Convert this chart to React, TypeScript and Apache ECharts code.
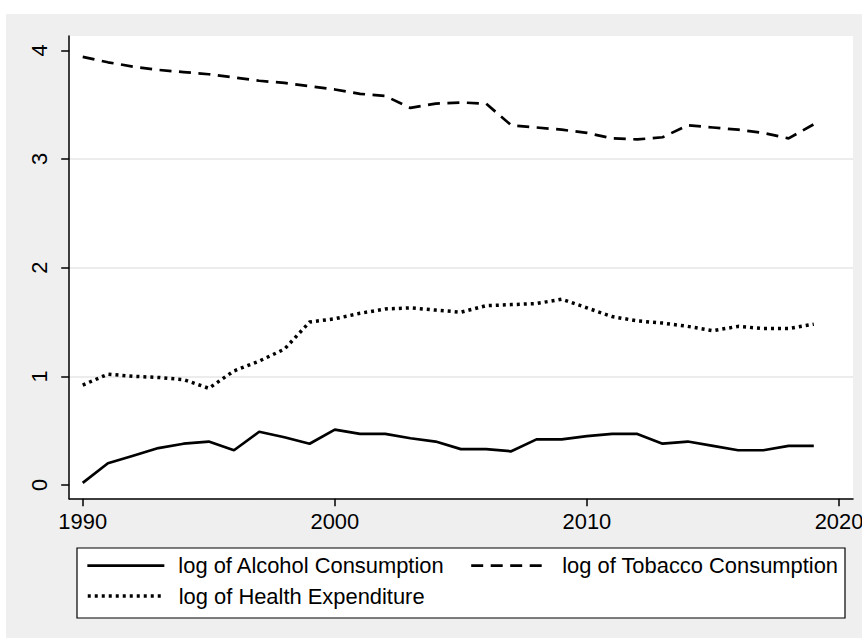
import React, { useEffect, useRef } from "react";
import * as echarts from "echarts";

// Years observed
const years = [
  1990, 1991, 1992, 1993, 1994, 1995, 1996, 1997, 1998, 1999,
  2000, 2001, 2002, 2003, 2004, 2005, 2006, 2007, 2008, 2009,
  2010, 2011, 2012, 2013, 2014, 2015, 2016, 2017, 2018, 2019,
];

// Log series
const alcohol = [
  0.02, 0.2, 0.27, 0.34, 0.38, 0.4, 0.32, 0.49, 0.44, 0.38,
  0.51, 0.47, 0.47, 0.43, 0.4, 0.33, 0.33, 0.31, 0.42, 0.42,
  0.45, 0.47, 0.47, 0.38, 0.4, 0.36, 0.32, 0.32, 0.36, 0.36,
];
const tobacco = [
  3.94, 3.89, 3.85, 3.82, 3.8, 3.78, 3.75, 3.72, 3.7, 3.67,
  3.64, 3.6, 3.58, 3.47, 3.51, 3.52, 3.51, 3.31, 3.29, 3.27,
  3.24, 3.19, 3.18, 3.2, 3.31, 3.29, 3.27, 3.24, 3.19, 3.32,
];
const health = [
  0.92, 1.02, 1.0, 0.99, 0.97, 0.89, 1.05, 1.14, 1.25, 1.5,
  1.53, 1.58, 1.62, 1.63, 1.61, 1.59, 1.65, 1.66, 1.67, 1.71,
  1.63, 1.55, 1.51, 1.49, 1.46, 1.42, 1.46, 1.44, 1.44, 1.48,
];

// Axis ticks
const xTicks = [1990, 2000, 2010, 2020];
const yTicks = [0, 1, 2, 3, 4];

const NAME_ALC = "log of Alcohol Consumption";
const NAME_TOB = "log of Tobacco Consumption";
const NAME_HEA = "log of Health Expenditure";

const FONT = '"Liberation Sans", Arial, Helvetica, sans-serif';
const FS = 21.9;

const pairs = (vals: number[]) => years.map((y, i) => [y, vals[i]]);

// Legend symbols are hidden so only the line sample shows
const hiddenSymbol = { color: "rgba(0,0,0,0)", borderWidth: 0, opacity: 0 };

export default function App() {
  const ref = useRef<HTMLDivElement>(null);

  useEffect(() => {
    if (!ref.current) return;
    const chart = echarts.init(ref.current, undefined, { renderer: "svg" });

    const lineBase = { color: "#000", width: 2.7, cap: "butt" as const };

    const option: any = {
      animation: false,
      backgroundColor: "#efefef",
      textStyle: { fontFamily: FONT },
      grid: {
        left: 63.2,
        top: 22,
        right: 9,
        bottom: 139.3,
        show: true,
        backgroundColor: "#ffffff",
        borderWidth: 0,
        outerBoundsMode: "none",
        containLabel: false,
      },
      xAxis: {
        type: "value",
        min: 1989.464,
        max: 2020.555,
        axisLine: { show: true, onZero: false, lineStyle: { color: "#000", width: 1.5 } },
        axisTick: {
          show: true,
          length: 7.5,
          customValues: xTicks,
          lineStyle: { color: "#000", width: 1.5 },
        },
        axisLabel: {
          show: true,
          customValues: xTicks,
          margin: 12,
          color: "#000",
          fontSize: FS,
          fontFamily: FONT,
          formatter: (v: number) => String(v),
        },
        splitLine: { show: false },
      },
      yAxis: {
        type: "value",
        min: -0.126,
        max: 4.132,
        axisLine: { show: true, onZero: false, lineStyle: { color: "#000", width: 1.5 } },
        axisTick: {
          show: true,
          length: 8,
          customValues: yTicks,
          lineStyle: { color: "#000", width: 1.5 },
        },
        axisLabel: {
          show: true,
          customValues: yTicks,
          rotate: 90,
          margin: 19,
          color: "#000",
          fontSize: FS,
          fontFamily: FONT,
          formatter: (v: number) => String(v),
        },
        splitLine: {
          show: true,
          showMinLine: false,
          showMaxLine: false,
          lineStyle: { color: "#e6e6e6", width: 1.5 },
        },
      },
      graphic: [
        {
          type: "rect",
          z: 1,
          shape: { x: 71, y: 534, width: 768, height: 70 },
          style: { fill: "#ffffff", stroke: "#000", lineWidth: 1.2 },
        },
      ],
      legend: [
        {
          data: [NAME_ALC, NAME_TOB],
          orient: "horizontal",
          left: 80,
          top: 540.7,
          padding: 0,
          itemGap: 25,
          itemWidth: 77,
          itemHeight: 22,
          itemStyle: hiddenSymbol,
          lineStyle: { width: 2.7 },
          textStyle: { color: "#000", fontSize: FS, fontFamily: FONT, padding: [0, 0, 0, 9] },
          selectedMode: false,
          z: 5,
        },
        {
          data: [NAME_HEA],
          orient: "horizontal",
          left: 80,
          top: 571,
          padding: 0,
          itemWidth: 77,
          itemHeight: 22,
          itemStyle: hiddenSymbol,
          lineStyle: { width: 3.5 },
          textStyle: { color: "#000", fontSize: FS, fontFamily: FONT, padding: [0, 0, 0, 9] },
          selectedMode: false,
          z: 5,
        },
      ],
      series: [
        {
          name: NAME_ALC,
          type: "line",
          data: pairs(alcohol),
          symbol: "none",
          showSymbol: false,
          itemStyle: { color: "#000" },
          lineStyle: { ...lineBase, type: "solid" },
        },
        {
          name: NAME_TOB,
          type: "line",
          data: pairs(tobacco),
          symbol: "none",
          showSymbol: false,
          itemStyle: { color: "#000" },
          lineStyle: { ...lineBase, type: [12, 7.5] },
        },
        {
          name: NAME_HEA,
          type: "line",
          data: pairs(health),
          symbol: "none",
          showSymbol: false,
          itemStyle: { color: "#000" },
          lineStyle: { ...lineBase, width: 3.5, type: [3, 4] },
        },
      ],
    };

    chart.setOption(option);
    return () => chart.dispose();
  }, []);

  return (
    <div
      ref={ref}
      style={{ position: "absolute", left: 6, top: 14, width: 856, height: 624 }}
    />
  );
}
